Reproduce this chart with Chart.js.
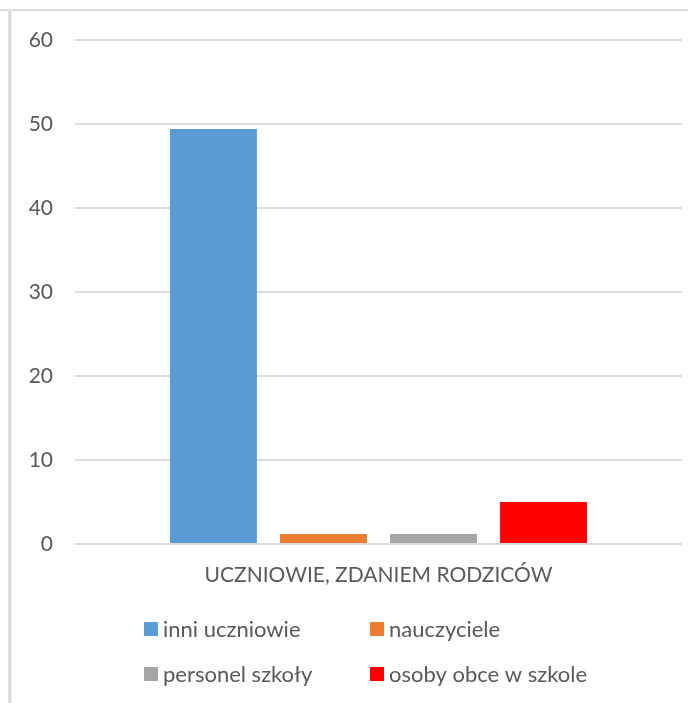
<!DOCTYPE html>
<html>
<head>
<meta charset="utf-8">
<script src="https://cdn.jsdelivr.net/npm/chart.js@4/dist/chart.umd.min.js"></script>
<style>
  html, body { margin: 0; padding: 0; background: #fff; }
  #wrap { position: relative; width: 688px; height: 703px; overflow: hidden; }
  #c { position: absolute; left: 0; top: 0; }
  .top-line { position: absolute; left: 0; top: 9px; width: 688px; height: 2px; background: #dadada; }
  .left-line { position: absolute; left: 8px; top: 9px; width: 2px; height: 694px; background: #dadada;
               border-right: 1px solid #ececec; border-left: 1px solid #e4e4e4; }
</style>
</head>
<body>
<div id="wrap">
  <canvas id="c" width="688" height="703"></canvas>
  <div class="top-line"></div>
  <div class="left-line"></div>
</div>
<script>
const categories = ['UCZNIOWIE, ZDANIEM RODZICÓW'];
const seriesNames = ['inni uczniowie', 'nauczyciele', 'personel szkoły', 'osoby obce w szkole'];
const seriesValues = [[49.4], [1.2], [1.2], [5.0]];
const seriesColors = ['#5b9bd5', '#ed7d31', '#a5a5a5', '#ff0000'];
const yTicks = [0, 10, 20, 30, 40, 50, 60];

const FONT = 'Lato, "Open Sans", sans-serif';
const TEXT = '#595959';

const gridLegend = {
  id: 'gridLegend',
  afterDraw(chart, args, opts) {
    const ctx = chart.ctx;
    ctx.save();
    ctx.font = opts.fontSize + 'px ' + FONT;
    ctx.textBaseline = 'middle';
    ctx.textAlign = 'left';
    chart.data.datasets.forEach((ds, i) => {
      const col = i % opts.columns.length;
      const row = Math.floor(i / opts.columns.length);
      const x = opts.columns[col];
      const y = opts.rows[row];
      ctx.fillStyle = ds.backgroundColor;
      ctx.fillRect(x, y - opts.box / 2, opts.box, opts.box);
      ctx.fillStyle = TEXT;
      ctx.fillText(ds.label, x + opts.textOffset, y + 1);
    });
    ctx.restore();
  }
};

new Chart(document.getElementById('c'), {
  type: 'bar',
  data: {
    labels: categories,
    datasets: seriesNames.map((name, i) => ({
      label: name,
      data: seriesValues[i],
      backgroundColor: seriesColors[i],
      borderWidth: 0,
      categoryPercentage: 0.725,
      barPercentage: 0.79
    }))
  },
  options: {
    responsive: false,
    animation: false,
    devicePixelRatio: 1,
    layout: { padding: { left: 0, right: 6, top: 40, bottom: 99 } },
    plugins: {
      legend: { display: false },
      tooltip: { enabled: false },
      gridLegend: { columns: [144, 370], rows: [629, 674], box: 14, textOffset: 19, fontSize: 22 }
    },
    scales: {
      x: {
        grid: { display: false, drawTicks: false },
        border: { display: false },
        ticks: { color: TEXT, font: { family: FONT, size: 21 }, padding: 19 },
        afterFit(scale) { scale.height = 60; }
      },
      y: {
        min: 0, max: 60,
        afterBuildTicks(scale) { scale.ticks = yTicks.map(v => ({ value: v })); },
        grid: { color: '#dcdcdc', lineWidth: 2, drawTicks: false },
        border: { display: false },
        ticks: { color: TEXT, font: { family: FONT, size: 21 }, padding: 22 },
        afterFit(scale) { scale.width = 75; }
      }
    }
  },
  plugins: [gridLegend]
});
</script>
</body>
</html>
